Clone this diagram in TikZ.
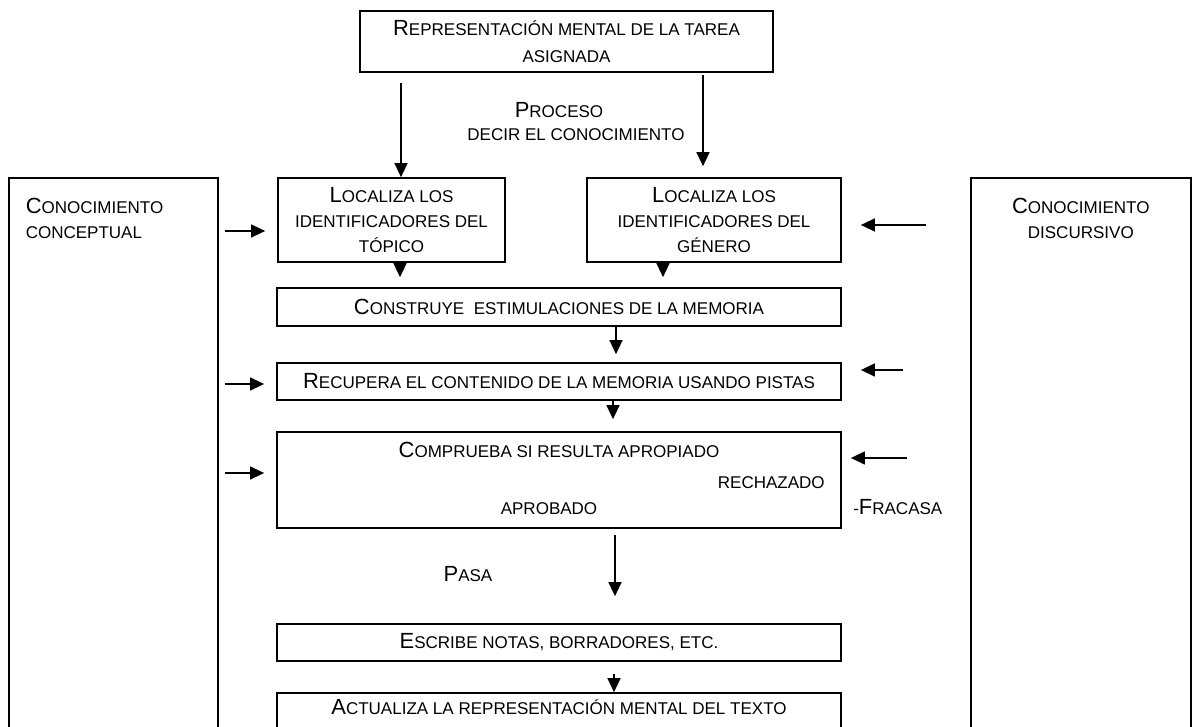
\documentclass[tikz,border=0pt]{standalone}
\usepackage{fontspec}
\setmainfont{Liberation Sans}
\usetikzlibrary{arrows.meta}
\newcommand{\Ini}[1]{{\fontsize{15.6}{17.6}\selectfont #1}}
\newcommand{\scfont}{\fontsize{12.1}{17.6}\selectfont}

\begin{document}
\begin{tikzpicture}[x=0.025cm,y=-0.025cm,
  caja/.style={draw,line width=1.1pt,inner sep=0pt,align=center,font=\scfont},
  etiqueta/.style={inner sep=0pt,font=\scfont},
  flecha/.style={line width=1.35pt,-{Triangle[length=3.5mm,width=3.2mm]}}]
\path[use as bounding box] (0,0) rectangle (1192,727);
\node[caja,anchor=north west,align=left,text width=4.375cm,inner xsep=0.425cm,text height=0.9cm,text depth=13.3cm] (concep) at (8,177) {\Ini{C}ONOCIMIENTO\\CONCEPTUAL};
\node[caja,anchor=north west,text width=5.1cm,inner xsep=0.2cm,text height=0.9cm,text depth=13.3cm] (discur) at (970,177) {\Ini{C}ONOCIMIENTO\\DISCURSIVO};
\node[caja,minimum width=10.325cm,minimum height=1.525cm,font=\fontsize{12.1}{19}\selectfont] (tarea) at (566.5,41.5) {\Ini{R}EPRESENTACIÓN MENTAL DE LA TAREA\\ASIGNADA};
\node[etiqueta,anchor=base] (proceso) at (559,118) {\Ini{P}ROCESO};
\node[etiqueta,anchor=base] (decir) at (576,141) {DECIR EL CONOCIMIENTO};
\node[caja,minimum width=5.675cm,minimum height=2.1cm] (topico) at (391.5,220) {\Ini{L}OCALIZA LOS\\IDENTIFICADORES DEL\\TÓPICO};
\node[caja,minimum width=6.35cm,minimum height=2.1cm] (genero) at (714,220) {\Ini{L}OCALIZA LOS\\IDENTIFICADORES DEL\\GÉNERO};
\node[caja,minimum width=14.1cm,minimum height=0.95cm] (construye) at (559,307) {\Ini{C}ONSTRUYE~ ESTIMULACIONES DE LA MEMORIA};
\node[caja,minimum width=14.1cm,minimum height=0.925cm] (recupera) at (559,381.5) {\Ini{R}ECUPERA EL CONTENIDO DE LA MEMORIA USANDO PISTAS};
\node[caja,minimum width=14.1cm,minimum height=2.4cm] (comprueba) at (559,480) {};
\node[etiqueta,anchor=base] (apropiado) at (559,458) {\Ini{C}OMPRUEBA SI RESULTA APROPIADO};
\node[etiqueta,anchor=base east] (rechazado) at (825,489) {RECHAZADO};
\node[etiqueta,anchor=base] (aprobado) at (549,515) {APROBADO};
\node[etiqueta,anchor=base west] (fracasa) at (853,515) {-\Ini{F}RACASA};
\node[etiqueta,anchor=base] (pasa) at (468,581) {\Ini{P}ASA};
\node[caja,minimum width=14.1cm,minimum height=0.925cm] (escribe) at (559,642.5) {\Ini{E}SCRIBE NOTAS, BORRADORES, ETC.};
\node[caja,anchor=base,minimum width=14.1cm,text height=0.525cm,text depth=0.75cm] (actualiza) at (559,714) {\Ini{A}CTUALIZA LA REPRESENTACIÓN MENTAL DEL TEXTO};

\coordinate (xa) at (401,0);
\coordinate (xb) at (703,0);
\coordinate (xc) at (400,0);
\coordinate (xd) at (663,0);
\coordinate (xe) at (616,0);
\coordinate (xf) at (613,0);
\coordinate (xg) at (615,0);
\coordinate (xh) at (614,0);
\draw[flecha,shorten <=0.25cm] (tarea.south -| xa) -- (xa |- topico.north);
\draw[flecha,shorten <=0.05cm,shorten >=0.275cm] (tarea.south -| xb) -- (xb |- genero.north);
\draw[flecha,shorten >=0.25cm] (topico.south -| xc) -- (xc |- construye.north);
\draw[flecha,shorten >=0.25cm] (genero.south -| xd) -- (xd |- construye.north);
\draw[flecha,shorten >=0.2cm] (construye.south -| xe) -- (xe |- recupera.north);
\draw[flecha,shorten >=0.3cm] (recupera.south -| xf) -- (xf |- comprueba.north);
\draw[flecha,shorten <=0.15cm,shorten >=0.675cm] (comprueba.south -| xg) -- (xg |- escribe.north);
\draw[flecha,shorten <=0.3cm] (escribe.south -| xh) -- (xh |- actualiza.north);

\coordinate (ya) at (0,231);
\coordinate (yb) at (0,384);
\coordinate (yc) at (0,473);
\coordinate (yd) at (0,225);
\coordinate (ye) at (0,370);
\coordinate (yf) at (0,458);
\draw[flecha,shorten <=0.15cm,shorten >=0.3cm] (concep.east |- ya) -- (topico.west |- ya);
\draw[flecha,shorten <=0.15cm,shorten >=0.3cm] (concep.east |- yb) -- (recupera.west |- yb);
\draw[flecha,shorten <=0.15cm,shorten >=0.3cm] (concep.east |- yc) -- (comprueba.west |- yc);
\draw[flecha,shorten <=1.1cm,shorten >=0.475cm] (discur.west |- yd) -- (genero.east |- yd);
\draw[flecha,shorten <=1.675cm,shorten >=0.475cm] (discur.west |- ye) -- (recupera.east |- ye);
\draw[flecha,shorten <=1.575cm,shorten >=0.225cm] (discur.west |- yf) -- (comprueba.east |- yf);
\end{tikzpicture}
\end{document}
